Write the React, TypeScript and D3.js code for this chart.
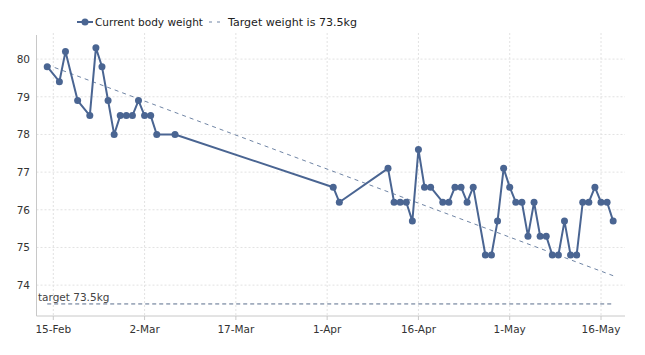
import React from "react";
import * as d3 from "d3";

const dates: string[] = [
  "2011-02-14","2011-02-16","2011-02-17","2011-02-19","2011-02-21","2011-02-22","2011-02-23","2011-02-24",
  "2011-02-25","2011-02-26","2011-02-27","2011-02-28","2011-03-01","2011-03-02","2011-03-03","2011-03-04",
  "2011-03-07","2011-04-02","2011-04-03","2011-04-11","2011-04-12","2011-04-13","2011-04-14","2011-04-15",
  "2011-04-16","2011-04-17","2011-04-18","2011-04-20","2011-04-21","2011-04-22","2011-04-23","2011-04-24",
  "2011-04-25","2011-04-27","2011-04-28","2011-04-29","2011-04-30","2011-05-01","2011-05-02","2011-05-03",
  "2011-05-04","2011-05-05","2011-05-06","2011-05-07","2011-05-08","2011-05-09","2011-05-10","2011-05-11",
  "2011-05-12","2011-05-13","2011-05-14","2011-05-15","2011-05-16","2011-05-17","2011-05-18",
];
const weights: number[] = [
  79.8, 79.4, 80.2, 78.9, 78.5, 80.3, 79.8, 78.9,
  78.0, 78.5, 78.5, 78.5, 78.9, 78.5, 78.5, 78.0,
  78.0, 76.6, 76.2, 77.1, 76.2, 76.2, 76.2, 75.7,
  77.6, 76.6, 76.6, 76.2, 76.2, 76.6, 76.6, 76.2,
  76.6, 74.8, 74.8, 75.7, 77.1, 76.6, 76.2, 76.2,
  75.3, 76.2, 75.3, 75.3, 74.8, 74.8, 75.7, 74.8,
  74.8, 76.2, 76.2, 76.6, 76.2, 76.2, 75.7,
];
const trendDates: string[] = ["2011-02-14", "2011-05-18"];
const trendValues: number[] = [79.85, 74.25];
const targetWeight = 73.5;
const targetDates: string[] = ["2011-02-14", "2011-05-18"];
const yTicks: number[] = [74, 75, 76, 77, 78, 79, 80];
const xTickDates: string[] = ["2011-02-15","2011-03-02","2011-03-17","2011-04-01","2011-04-16","2011-05-01","2011-05-16"];
const xTickLabels: string[] = ["15-Feb","2-Mar","17-Mar","1-Apr","16-Apr","1-May","16-May"];
const seriesNames: string[] = ["Current body weight", "Target weight is 73.5kg"];

const parse = d3.utcParse("%Y-%m-%d");

export default function App() {
  const W = 645, H = 355;
  const left = 36.5, right = 625, top = 35, bottom = 316;
  const x = d3.scaleUtc()
    .domain([parse("2011-02-15")!, parse("2011-05-16")!])
    .range([53.3, 601]);
  const y = d3.scaleLinear().domain([73.18, 80.64]).range([bottom, top]);

  const pts = dates.map((d, i) => ({ d: parse(d)!, v: weights[i] }));
  const line = d3.line<{ d: Date; v: number }>().x(p => x(p.d)).y(p => y(p.v));
  const trend = trendDates.map((d, i) => ({ d: parse(d)!, v: trendValues[i] }));
  const target = targetDates.map(d => ({ d: parse(d)!, v: targetWeight }));

  const blue = "#4a6592";
  const font = "DejaVu Sans, Verdana, sans-serif";
  const textColor = "#333";

  return (
    <svg width={W} height={H} style={{ position: "absolute", left: 0, top: 0, background: "#fff" }}
      fontFamily={font}>
      {yTicks.map(t => (
        <line key={"gy" + t} x1={left} x2={right} y1={y(t)} y2={y(t)}
          stroke="#e2e2e2" strokeDasharray="2,2" />
      ))}
      {xTickDates.map(t => (
        <line key={"gx" + t} x1={x(parse(t)!)} x2={x(parse(t)!)} y1={top - 2} y2={bottom}
          stroke="#e2e2e2" strokeDasharray="2,2" />
      ))}
      <line x1={left} x2={left} y1={top} y2={bottom} stroke="#c8c8c8" />
      <line x1={left} x2={right} y1={bottom} y2={bottom} stroke="#c8c8c8" />
      {xTickDates.map((t, i) => (
        <g key={"xt" + t}>
          <line x1={x(parse(t)!)} x2={x(parse(t)!)} y1={bottom} y2={bottom + 4} stroke="#c8c8c8" />
          <text x={x(parse(t)!)} y={bottom + 17} textAnchor="middle" fontSize={10.5} fill={textColor}>
            {xTickLabels[i]}
          </text>
        </g>
      ))}
      {yTicks.map(t => (
        <text key={"yt" + t} x={30} y={y(t) + 4} textAnchor="end" fontSize={10.5} fill={textColor}>
          {t}
        </text>
      ))}
      <path d={line(target)!} fill="none" stroke="#5a6e8c" strokeWidth={1} strokeDasharray="4,3" />
      <text x={38} y={301} fontSize={10.5} fill="#444">target 73.5kg</text>
      <path d={line(trend)!} fill="none" stroke="#7085a5" strokeWidth={1} strokeDasharray="4,4" />
      <path d={line(pts)!} fill="none" stroke={blue} strokeWidth={2} strokeLinejoin="round" />
      {pts.map((p, i) => (
        <circle key={"p" + i} cx={x(p.d)} cy={y(p.v)} r={3.5} fill={blue} />
      ))}
      <line x1={77} x2={93} y1={22} y2={22} stroke={blue} strokeWidth={2} />
      <circle cx={85} cy={22} r={3.5} fill={blue} />
      <text x={95} y={26} fontSize={11} fill="#222" textLength={108} lengthAdjust="spacingAndGlyphs">{seriesNames[0]}</text>
      <line x1={209} x2={220} y1={22} y2={22} stroke="#7085a5" strokeWidth={1} strokeDasharray="3,5" />
      <text x={228} y={26} fontSize={11} fill="#222" textLength={129} lengthAdjust="spacingAndGlyphs">{seriesNames[1]}</text>
    </svg>
  );
}
